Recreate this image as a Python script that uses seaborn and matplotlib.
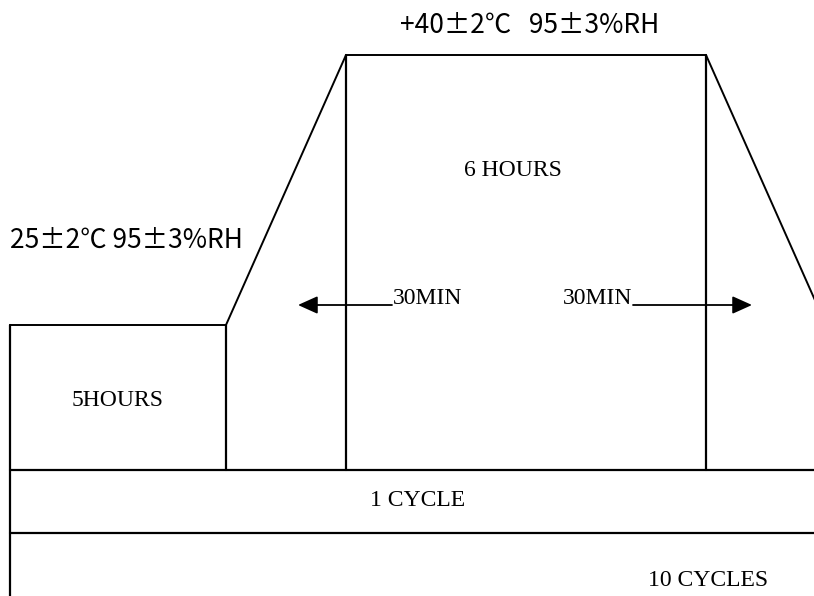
import matplotlib
matplotlib.use("Agg")
import matplotlib.pyplot as plt
import seaborn as sns
import pandas as pd

# Diagram geometry (canvas units: x to the right, y downward, 814 x 596)
profile_x = [10, 226, 346, 706, 826]
profile_y = [325, 325, 55, 55, 325]

divider_x = [226, 346, 706]
divider_top = [325, 55, 55]
band_bottom = 470

band_lines_y = [470, 533]
band_x = [10, 814]

border_x = 10
border_y = [325, 596]

# arrows: (start x, end x, y)
arrow_left = (392, 298, 305)
arrow_right = (633, 752, 305)

labels = ["6 HOURS", "30MIN", "30MIN", "5HOURS", "1 CYCLE", "10 CYCLES"]
label_x = [513, 428, 598, 118, 418, 708]
label_y = [170, 298, 298, 400, 500, 580]

cond_labels = ["+40\u00b12\u2103   95\u00b13%RH", "25\u00b12\u2103 95\u00b13%RH"]
cond_x = [530, 10]
cond_y = [25, 240]
cond_ha = ["center", "left"]

sns.set_theme(style="white")
plt.rcParams['font.family'] = ['Liberation Serif', 'Noto Sans CJK SC', 'DejaVu Sans']

fig = plt.figure(figsize=(8.14, 5.96), dpi=100)
ax = fig.add_axes([0, 0, 1, 1])
ax.set_xlim(0, 814)
ax.set_ylim(596, 0)
ax.axis("off")

prof = pd.DataFrame({"x": profile_x, "y": profile_y})
sns.lineplot(data=prof, x="x", y="y", sort=False, color="black", lw=1.4, ax=ax, estimator=None)

for x, top in zip(divider_x, divider_top):
    ax.plot([x, x], [top, band_bottom], color="black", lw=1.6)

for y in band_lines_y:
    ax.plot(band_x, [y, y], color="black", lw=1.6)

ax.plot([border_x, border_x], border_y, color="black", lw=1.6)

for x0, x1, y in (arrow_left, arrow_right):
    ax.annotate("", xy=(x1, y), xytext=(x0, y),
                arrowprops=dict(arrowstyle="-|>,head_length=1.0,head_width=0.45",
                                color="black", lw=1.3, shrinkA=0, shrinkB=0))

for t, x, y in zip(labels, label_x, label_y):
    ax.text(x, y, t, ha="center", va="center", fontsize=17, color="black")

# the condition labels use full-width ± and ℃ like the original
for t, x, y, ha in zip(cond_labels, cond_x, cond_y, cond_ha):
    ax.text(x, y, t, ha=ha, va="center", fontsize=19, color="black",
            family=['Noto Sans CJK SC', 'DejaVu Sans'])

ax.set_xlabel("")
ax.set_ylabel("")
fig.savefig("out.png", dpi=100)
